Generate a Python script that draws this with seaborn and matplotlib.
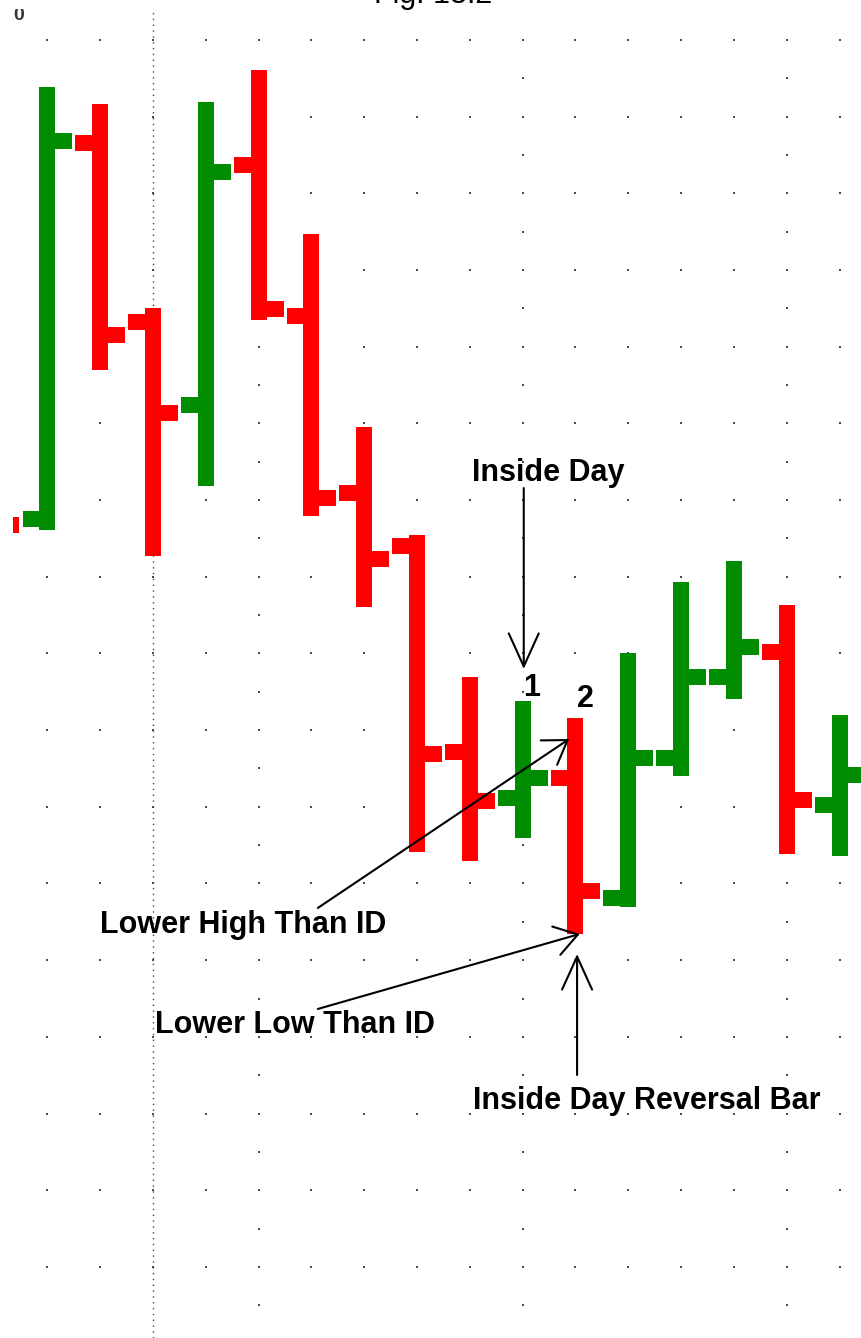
import numpy as np
import pandas as pd
import matplotlib
matplotlib.use("Agg")
import matplotlib.pyplot as plt
import seaborn as sns

# daily bars (day -1 is cut off at the left edge)
days = [-1, 0, 1, 2, 3, 4, 5, 6, 7, 8, 9, 10, 11, 12, 13, 14, 15]
opens = [203.0, 197.5, 246.6, 223.2, 212.4, 243.7, 224.0, 200.9, 194.0,
         167.1, 161.2, 163.8, 148.1, 166.4, 176.9, 180.2, 160.2]
highs = [205.0, 253.9, 251.6, 225.0, 251.9, 256.1, 234.7, 209.5, 195.4,
         176.9, 173.8, 171.6, 180.1, 189.3, 192.1, 186.3, 172.0]
lows = [195.0, 196.1, 217.0, 192.7, 201.8, 223.5, 197.9, 186.1, 154.1,
        152.9, 155.9, 143.4, 146.9, 164.0, 174.1, 153.9, 153.6]
closes = [196.7, 246.8, 221.5, 211.3, 242.8, 224.9, 200.3, 192.3, 166.9,
          160.8, 163.8, 149.0, 166.4, 176.9, 180.8, 160.9, 164.2]

up_color = "#008c00"
down_color = "#ff0000"

sns.set_theme(style="white")
plt.rcParams["font.family"] = ["Liberation Sans", "DejaVu Sans"]

df = pd.DataFrame({"day": days, "open": opens, "high": highs,
                   "low": lows, "close": closes})
df["color"] = np.where(df["close"] > df["open"], up_color, down_color)

fig = plt.figure(figsize=(8.62, 13.38), dpi=100)
ax = fig.add_axes([13 / 862, 0, 1 - 13 / 862, 1 - 9 / 1338])
ax.set_xlim(-0.653, 15.426)
ax.set_ylim(90.74, 264.02)
ax.axis("off")

# dotted grid: a dot for every bar column and price row
gx, gy = np.meshgrid(np.arange(0, 16), np.arange(100, 261, 10))
ax.scatter(gx.ravel(), gy.ravel(), s=1.8, marker="s", color="#4a4a4a",
           linewidths=0, zorder=1)
hx, hy = np.meshgrid([4, 9, 14], np.arange(95, 266, 10))
ax.scatter(hx.ravel(), hy.ravel(), s=1.8, marker="s", color="#4a4a4a",
           linewidths=0, zorder=1)
ax.axvline(2, color="#444444", lw=1, ls=(0, (1, 3.2)), zorder=1)

# OHLC bars
w = 11.5
tick = 0.47
ax.vlines(df["day"], df["low"], df["high"], colors=df["color"],
          linewidth=w, capstyle="butt", zorder=3)
ax.hlines(df["open"], df["day"] - tick, df["day"], colors=df["color"],
          linewidth=w, capstyle="butt", zorder=3)
ax.hlines(df["close"], df["day"], df["day"] + tick, colors=df["color"],
          linewidth=w, capstyle="butt", zorder=3)

# annotations
kw = dict(fontsize=22, fontweight="bold", color="black", va="baseline", zorder=5)
ax.text(8.04, 202.5, "Inside Day", **kw)
ax.text(9.16, 174.45, "1", ha="center", **kw)
ax.text(10.19, 173.0, "2", ha="center", **kw)
ax.text(1.0, 143.55, "Lower High Than ID", **kw)
ax.text(2.04, 130.5, "Lower Low Than ID", **kw)
ax.text(8.06, 120.6, "Inside Day Reversal Bar", **kw)

straight = dict(arrowstyle="->,head_length=1.19,head_width=0.54",
                color="black", lw=1.5, shrinkA=0, shrinkB=0, mutation_scale=20)
slanted = dict(arrowstyle="->,head_length=0.81,head_width=0.53",
               color="black", lw=1.5, shrinkA=0, shrinkB=0, mutation_scale=20)
ax.annotate("", xy=(9.02, 177.97), xytext=(9.02, 201.56), arrowprops=straight, zorder=5)
ax.annotate("", xy=(10.03, 140.81), xytext=(10.03, 125.03), arrowprops=straight, zorder=5)
ax.annotate("", xy=(9.88, 168.84), xytext=(5.12, 146.81), arrowprops=slanted, zorder=5)
ax.annotate("", xy=(10.08, 143.42), xytext=(5.12, 133.64), arrowprops=slanted, zorder=5)

# title and axis label, both cut off at the top edge as in the source
fig.text(0.503, 1 - 2.5 / 1338, "Fig. 13.2", ha="center", va="baseline",
         fontsize=22, color="black")
ax.text(6 / 849, 1 - 11 / 1329, "0", transform=ax.transAxes, ha="center",
        va="baseline", fontsize=14, fontweight="bold", color="#333333",
        clip_on=True)

fig.savefig("out.png", dpi=100)
